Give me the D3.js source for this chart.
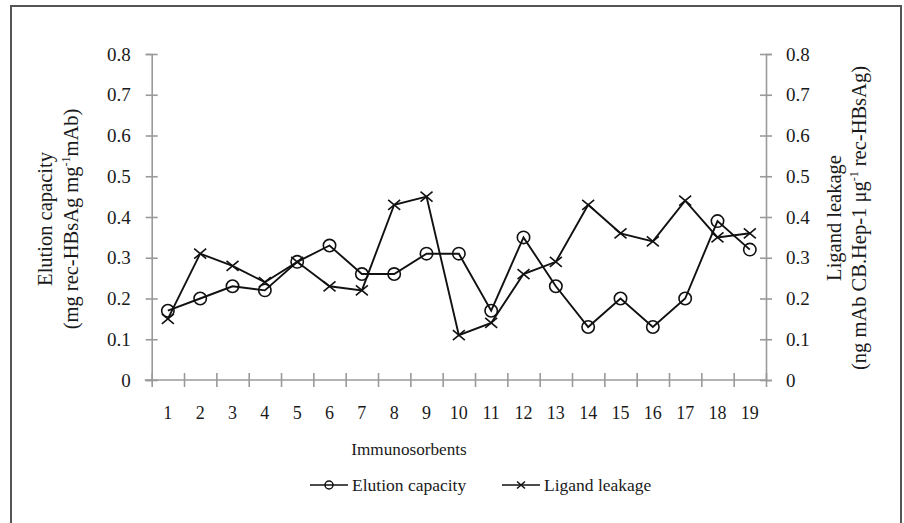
<!DOCTYPE html>
<html>
<head>
<meta charset="utf-8">
<script src="https://cdn.jsdelivr.net/npm/d3@7/dist/d3.min.js"></script>
<style>
  html, body { margin: 0; padding: 0; background: #fff; }
  svg { display: block; }
  svg text { font-family: "Liberation Serif", "Times New Roman", serif; }
</style>
</head>
<body>
<svg id="chart" width="904" height="523"></svg>
<script>
const categories = ["1","2","3","4","5","6","7","8","9","10","11","12","13","14","15","16","17","18","19"];
const elutionCapacity = [0.17,0.20,0.23,0.22,0.29,0.33,0.26,0.26,0.31,0.31,0.17,0.35,0.23,0.13,0.20,0.13,0.20,0.39,0.32];
const ligandLeakage   = [0.15,0.31,0.28,0.24,0.29,0.23,0.22,0.43,0.45,0.11,0.14,0.26,0.29,0.43,0.36,0.34,0.44,0.35,0.36];
const yTicks = [0,0.1,0.2,0.3,0.4,0.5,0.6,0.7,0.8];
const seriesNames = ["Elution capacity","Ligand leakage"];

(function () {
const FONT = "Liberation Serif";
const svg = d3.select("#chart");
const pLeft = 151.7, pRight = 766, pTop = 54, pBottom = 380;
const axisColor = "#9a9a9a";
const ink = "#1a1a1a";

// outer frame
svg.append("rect").attr("x", 11).attr("y", 6).attr("width", 890).attr("height", 530)
  .attr("fill", "none").attr("stroke", "#555").attr("stroke-width", 2);

const x = d3.scaleBand().domain(categories).range([pLeft, pRight]);
const xEdge = d3.scaleLinear().domain([0, categories.length]).range([pLeft, pRight]);
const yL = d3.scaleLinear().domain([0, 0.8]).range([pBottom, pTop]);
const yR = d3.scaleLinear().domain([0, 0.8]).range([pBottom, pTop]);
const fmt = d => d === 0 ? "0" : d.toFixed(1);

function styleAxis(g) {
  g.attr("font-family", FONT);
  g.select(".domain").attr("stroke", axisColor).attr("stroke-width", 1.6);
  g.selectAll(".tick line").attr("stroke", axisColor).attr("stroke-width", 1.6);
  g.selectAll("text").attr("fill", ink).attr("font-family", FONT);
}

// left axis
const gL = svg.append("g").attr("transform", `translate(${pLeft},0)`)
  .call(d3.axisLeft(yL).tickValues(yTicks).tickFormat(fmt).tickSizeOuter(0).tickSize(6).tickPadding(15));
gL.selectAll(".tick line").attr("x1", -6).attr("x2", 6);
gL.selectAll("text").attr("font-size", 19);
styleAxis(gL);

// right axis
const gR = svg.append("g").attr("transform", `translate(${pRight},0)`)
  .call(d3.axisRight(yR).tickValues(yTicks).tickFormat(fmt).tickSizeOuter(0).tickSize(6).tickPadding(14));
gR.selectAll(".tick line").attr("x1", -6).attr("x2", 6);
gR.selectAll("text").attr("font-size", 19);
styleAxis(gR);

// bottom axis ticks at band edges
const gB = svg.append("g").attr("transform", `translate(0,${pBottom})`)
  .call(d3.axisBottom(xEdge).tickValues(d3.range(categories.length + 1)).tickFormat("").tickSizeOuter(0).tickSize(7));
gB.selectAll(".tick line").attr("y1", -7).attr("y2", 7);
styleAxis(gB);
gB.select(".domain").remove();
svg.append("line").attr("x1", pLeft - 7).attr("x2", pRight).attr("y1", pBottom).attr("y2", pBottom)
  .attr("stroke", axisColor).attr("stroke-width", 1.6);

// bottom labels at band centres
const gBL = svg.append("g").attr("transform", `translate(0,${pBottom})`)
  .call(d3.axisBottom(x).tickSize(0).tickPadding(26));
gBL.select(".domain").remove();
gBL.selectAll("text").attr("font-size", 18);
styleAxis(gBL);

// axis titles
svg.append("text").attr("x", 409).attr("y", 455).attr("text-anchor", "middle")
  .attr("font-family", FONT).attr("font-size", 17.2).attr("fill", ink).text("Immunosorbents");

const TS = 20.5;
const tL = svg.append("g").attr("transform", "translate(0,219) rotate(-90)");
tL.append("text").attr("x", 0).attr("y", 52).attr("text-anchor", "middle")
  .attr("font-family", FONT).attr("font-size", TS).attr("fill", ink).text("Elution capacity");
const tL2 = tL.append("text").attr("x", 0).attr("y", 78).attr("text-anchor", "middle")
  .attr("font-family", FONT).attr("font-size", TS).attr("fill", ink);
tL2.append("tspan").text("(mg rec-HBsAg mg");
tL2.append("tspan").attr("font-size", 12).attr("dy", -8).text("-1");
tL2.append("tspan").attr("dy", 8).text("mAb)");

const tR = svg.append("g").attr("transform", "translate(0,218) rotate(-90)");
tR.append("text").attr("x", 0).attr("y", 841).attr("text-anchor", "middle")
  .attr("font-family", FONT).attr("font-size", TS).attr("fill", ink).text("Ligand leakage");
const tR2 = tR.append("text").attr("x", 0).attr("y", 866).attr("text-anchor", "middle")
  .attr("font-family", FONT).attr("font-size", TS).attr("fill", ink);
tR2.append("tspan").text("(ng mAb CB.Hep-1 \u03bcg");
tR2.append("tspan").attr("font-size", 12).attr("dy", -8).text("-1");
tR2.append("tspan").attr("dy", 8).text(" rec-HBsAg)");

// lines
const cx = (d, i) => x(categories[i]) + x.bandwidth() / 2;
const lineL = d3.line().x(cx).y(d => yL(d));
const lineR = d3.line().x(cx).y(d => yR(d));

svg.append("path").datum(elutionCapacity).attr("d", lineL)
  .attr("fill", "none").attr("stroke", "#111").attr("stroke-width", 1.9);
svg.append("path").datum(ligandLeakage).attr("d", lineR)
  .attr("fill", "none").attr("stroke", "#111").attr("stroke-width", 1.9);

svg.append("g").selectAll("circle").data(elutionCapacity).join("circle")
  .attr("cx", cx).attr("cy", d => yL(d)).attr("r", 6.2)
  .attr("fill", "none").attr("stroke", "#111").attr("stroke-width", 1.6);

const xMark = "M-6,-5L6,5M-6,5L6,-5";
svg.append("g").selectAll("path").data(ligandLeakage).join("path")
  .attr("transform", (d, i) => `translate(${cx(d, i)},${yR(d)})`)
  .attr("d", xMark).attr("fill", "none").attr("stroke", "#111").attr("stroke-width", 1.6);

// legend
const leg = svg.append("g");
const legY = 485;
const items = [{name: seriesNames[0], x0: 310, type: "circle"}, {name: seriesNames[1], x0: 502, type: "x"}];
items.forEach(it => {
  leg.append("line").attr("x1", it.x0).attr("x2", it.x0 + 38).attr("y1", legY).attr("y2", legY)
    .attr("stroke", "#111").attr("stroke-width", 1.6);
  if (it.type === "circle") {
    leg.append("circle").attr("cx", it.x0 + 19).attr("cy", legY).attr("r", 4)
      .attr("fill", "none").attr("stroke", "#111").attr("stroke-width", 1.5);
  } else {
    leg.append("path").attr("transform", `translate(${it.x0 + 19},${legY})`)
      .attr("d", "M-4,-3.5L4,3.5M-4,3.5L4,-3.5").attr("stroke", "#111").attr("stroke-width", 1.5);
  }
  leg.append("text").attr("x", it.x0 + 42).attr("y", legY + 6)
    .attr("font-family", FONT).attr("font-size", 17.5)
    .attr("fill", ink).text(it.name);
});
})();
</script>
</body>
</html>
